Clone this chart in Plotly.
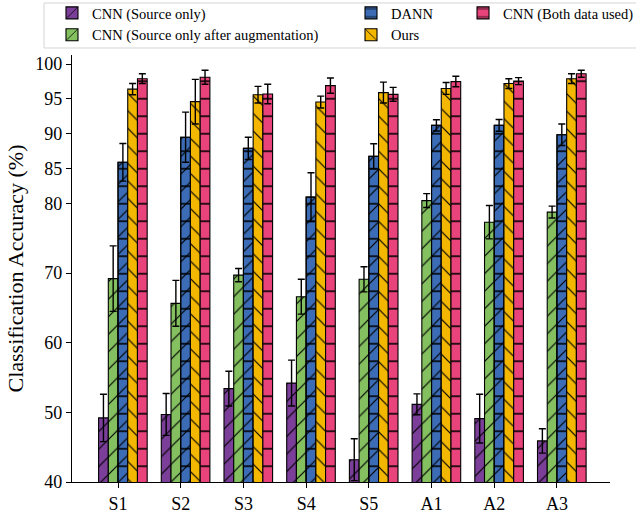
import plotly.graph_objects as go

# Domains on the x axis
categories = ["S1", "S2", "S3", "S4", "S5", "A1", "A2", "A3"]

# Mean accuracy (%) and standard deviation for each method
cnn_src = [49.2, 49.7, 53.4, 54.2, 43.2, 51.15, 49.1, 45.9]
cnn_src_err = [3.4, 3.0, 2.5, 3.3, 3.0, 1.5, 3.5, 1.75]

cnn_aug = [69.2, 65.65, 69.7, 66.6, 69.1, 80.4, 77.3, 78.75]
cnn_aug_err = [4.7, 3.3, 0.95, 2.5, 1.8, 1.0, 2.4, 0.85]

dann = [85.9, 89.5, 87.9, 80.9, 86.75, 91.2, 91.2, 89.85]
dann_err = [2.7, 3.6, 1.6, 3.5, 1.8, 0.8, 0.85, 1.55]

ours = [96.4, 94.6, 95.6, 94.55, 95.9, 96.5, 97.2, 97.9]
ours_err = [0.8, 3.2, 1.2, 0.85, 1.5, 0.85, 0.7, 0.7]

cnn_both = [97.9, 98.1, 95.7, 96.9, 95.65, 97.5, 97.55, 98.6]
cnn_both_err = [0.7, 1.0, 1.4, 1.1, 1.0, 0.75, 0.5, 0.5]

y_ticks = [40, 50, 60, 70, 80, 85, 90, 95, 100]

FONT = "'Liberation Serif', 'Times New Roman', serif"
BAR_W = 0.155


def hatch_pattern(shape):
    # horizontal and diagonal hatches use different tile conventions,
    # so each gets its own tile size to land on a ~17.5 px line spacing
    if shape in ("-", "|"):
        size, line_px = 17.5, 1.6
    else:
        size, line_px = 12.4, 1.2
    return dict(shape=shape, size=size, solidity=line_px / size,
                fgcolor="black", fgopacity=1, fillmode="overlay")


series = [
    ("CNN (Source only)", cnn_src, cnn_src_err, "#7b3f99", "/", "legend"),
    ("CNN (Source only after augmentation)", cnn_aug, cnn_aug_err, "#84c060", "/", "legend"),
    ("DANN", dann, dann_err, "#3b6cb5", "-", "legend2"),
    ("Ours", ours, ours_err, "#f4b700", "\\", "legend2"),
    ("CNN (Both data used)", cnn_both, cnn_both_err, "#e8437a", "-", "legend3"),
]

fig = go.Figure()
idx = list(range(len(categories)))

for k, (name, vals, errs, color, hatch, leg) in enumerate(series):
    xs = [i + (k - 2) * BAR_W + BAR_W / 2 for i in idx]
    err_cfg = dict(type="data", array=errs, visible=True, color="black",
                   thickness=1.4, width=3.5)
    extra_hatch = name == "DANN"
    fig.add_trace(go.Bar(
        x=xs, y=vals, width=BAR_W, name=name, legend=leg,
        marker=dict(color=color, line=dict(color="black", width=1.1),
                    pattern=hatch_pattern(hatch)),
        error_y=None if extra_hatch else err_cfg,
        hoverinfo="skip",
    ))
    if extra_hatch:
        # DANN bars carry a second, diagonal hatch on top of the horizontal one
        fig.add_trace(go.Bar(
            x=xs, y=vals, width=BAR_W, name=name, showlegend=False,
            marker=dict(color="rgba(0,0,0,0)", line=dict(color="black", width=1.1),
                        pattern=hatch_pattern("/")),
            error_y=err_cfg, hoverinfo="skip",
        ))

legend_common = dict(
    bgcolor="rgba(0,0,0,0)", borderwidth=0, orientation="v",
    font=dict(family=FONT, size=14.5, color="black"),
    xanchor="left", yanchor="top", y=1.136, tracegroupgap=0,
)

fig.update_layout(
    width=636, height=514,
    margin=dict(l=72, r=26, t=55, b=32, autoexpand=False),
    paper_bgcolor="white", plot_bgcolor="white",
    barmode="overlay",
    font=dict(family=FONT, color="black"),
    legend=dict(x=-0.0372, **legend_common),
    legend2=dict(x=0.5186, **legend_common),
    legend3=dict(x=0.7268, **legend_common),
    xaxis=dict(
        range=[-0.734, 7.846], tickvals=idx, ticktext=categories,
        showline=True, linecolor="black", linewidth=1.3,
        ticks="outside", ticklen=5, tickwidth=1.2, tickcolor="black",
        showgrid=False, zeroline=False, automargin=False,
        tickfont=dict(family=FONT, size=18, color="black"),
    ),
    yaxis=dict(
        range=[40, 101.3], tickvals=y_ticks,
        showline=True, linecolor="black", linewidth=1.3,
        ticks="outside", ticklen=5, tickwidth=1.2, tickcolor="black",
        showgrid=False, zeroline=False, automargin=False,
        tickfont=dict(family=FONT, size=18, color="black"),
        title=dict(text="Classification Accuracy (%)",
                   font=dict(family=FONT, size=22, color="black"), standoff=5),
    ),
    shapes=[dict(
        type="rect", xref="paper", yref="paper",
        x0=-0.052, x1=1.06, y0=1.0164, y1=1.1218,
        line=dict(color="#d4d4d4", width=1), fillcolor="rgba(0,0,0,0)",
        layer="below",
    )],
)

fig.write_html("out.html")
